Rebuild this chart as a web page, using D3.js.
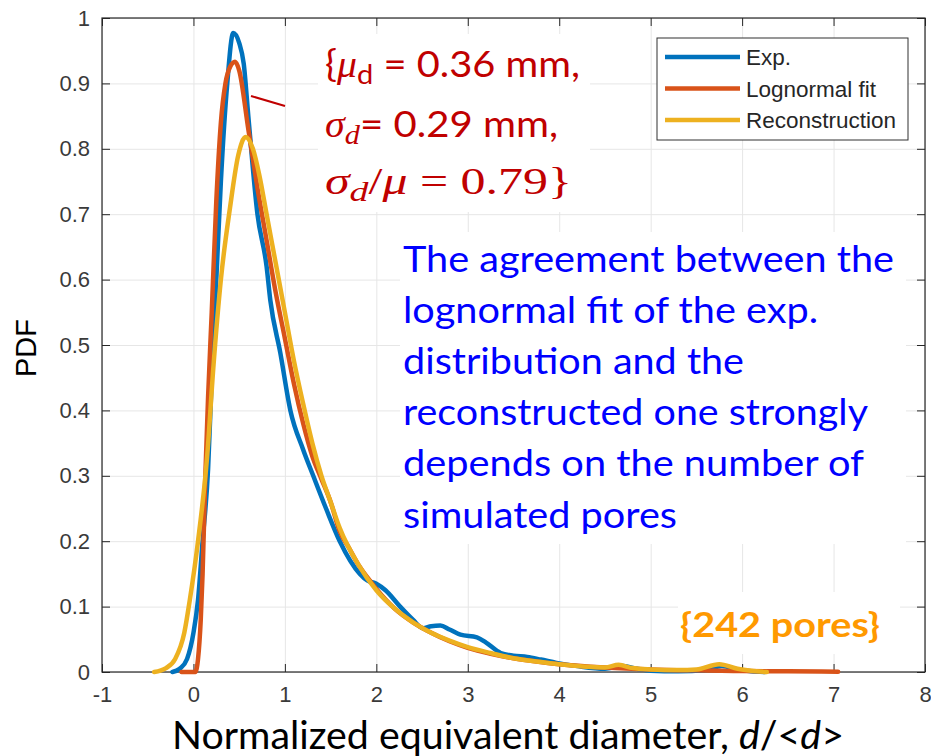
<!DOCTYPE html>
<html>
<head>
<meta charset="utf-8">
<script src="https://cdn.jsdelivr.net/npm/d3@7"></script>
<style>
  body { margin: 0; background: #fff; }
  svg { display: block; }
</style>
</head>
<body>
<div id="chart"></div>
<script>
// ---- data ----
const xTicks = [-1, 0, 1, 2, 3, 4, 5, 6, 7, 8];
const yTicks = [0, 0.1, 0.2, 0.3, 0.4, 0.5, 0.6, 0.7, 0.8, 0.9, 1];
const yTickLabels = ["0", "0.1", "0.2", "0.3", "0.4", "0.5", "0.6", "0.7", "0.8", "0.9", "1"];

const seriesNames = ["Exp.", "Lognormal fit", "Reconstruction"];
const seriesColors = ["#0072BD", "#D95319", "#EDB120"];

// Exp.
const expX = [-0.23, -0.15, -0.07, 0.0, 0.05, 0.1, 0.16, 0.2, 0.25, 0.3, 0.37, 0.435, 0.5, 0.55, 0.6, 0.7, 0.8, 0.84, 0.95, 1.06, 1.2, 1.31, 1.45, 1.6, 1.82, 1.9, 2.0, 2.1, 2.26, 2.4, 2.51, 2.6, 2.7, 2.8, 2.92, 3.1, 3.2, 3.36, 3.5, 3.65, 3.8, 3.97, 4.2, 4.5, 4.7, 4.85, 5.0, 5.3, 5.6, 5.78, 5.95, 6.1, 6.25];
const expY = [0, 0.005, 0.02, 0.06, 0.11, 0.2, 0.31, 0.45, 0.6, 0.75, 0.9, 0.977, 0.962, 0.93, 0.85, 0.70, 0.62, 0.569, 0.488, 0.40, 0.34, 0.30, 0.25, 0.20, 0.15, 0.14, 0.135, 0.125, 0.10, 0.08, 0.067, 0.07, 0.071, 0.065, 0.057, 0.053, 0.045, 0.029, 0.025, 0.023, 0.019, 0.014, 0.009, 0.005, 0.009, 0.005, 0.002, 0.001, 0.003, 0.009, 0.004, 0.001, 0];

// Lognormal fit
const fitX = [-0.13, 0.02, 0.05, 0.08, 0.1, 0.13, 0.16, 0.2, 0.25, 0.3, 0.35, 0.4, 0.455, 0.5, 0.6, 0.7, 0.8, 0.9, 1.0, 1.1, 1.2, 1.3, 1.4, 1.5, 1.6, 1.7, 1.8, 1.9, 2.0, 2.2, 2.4, 2.6, 2.8, 3.0, 3.25, 3.5, 3.75, 4.0, 4.5, 5.0, 5.5, 6.0, 6.5, 7.05];
const fitY = [0, 0, 0.02, 0.08, 0.15, 0.3, 0.42, 0.55, 0.72, 0.84, 0.9, 0.925, 0.933, 0.92, 0.83, 0.74, 0.66, 0.58, 0.51, 0.44, 0.38, 0.33, 0.295, 0.26, 0.215, 0.19, 0.165, 0.145, 0.127, 0.097, 0.076, 0.06, 0.047, 0.037, 0.028, 0.021, 0.016, 0.012, 0.007, 0.004, 0.0025, 0.0015, 0.001, 0.0005];

// Reconstruction
const recX = [-0.43, -0.3, -0.2, -0.1, -0.04, 0.05, 0.15, 0.22, 0.3, 0.4, 0.49, 0.57, 0.65, 0.72, 0.8, 0.9, 1.0, 1.1, 1.2, 1.3, 1.4, 1.5, 1.6, 1.8, 2.0, 2.2, 2.4, 2.6, 2.8, 3.0, 3.25, 3.5, 3.75, 4.0, 4.3, 4.5, 4.65, 4.8, 5.0, 5.3, 5.5, 5.75, 5.95, 6.1, 6.27];
const recY = [0, 0.006, 0.02, 0.06, 0.11, 0.2, 0.33, 0.47, 0.6, 0.71, 0.79, 0.818, 0.8, 0.76, 0.70, 0.625, 0.55, 0.475, 0.41, 0.35, 0.30, 0.26, 0.22, 0.165, 0.125, 0.097, 0.076, 0.06, 0.048, 0.038, 0.029, 0.021, 0.016, 0.012, 0.008, 0.007, 0.011, 0.006, 0.004, 0.003, 0.004, 0.012, 0.005, 0.002, 0];

const blueLines = [
  "The agreement between the",
  "lognormal fit of the exp.",
  "distribution and the",
  "reconstructed one strongly",
  "depends on the number of",
  "simulated pores"
];
const blueWidths = [491, 415, 341, 465, 461, 274];

// ---- svg ----
const W = 931, H = 756;
const svg = d3.select("#chart")
  .append("svg")
    .attr("width", W)
    .attr("height", H)
    .attr("viewBox", `0 0 ${W} ${H}`);

const plot = { left: 102, right: 925, top: 18, bottom: 672 };

const xScale = d3.scaleLinear().domain([-1, 8]).range([plot.left, plot.right]);
const yScale = d3.scaleLinear().domain([0, 1]).range([plot.bottom, plot.top]);

const tickFont = "'Liberation Sans', Arial, sans-serif";
const calibri = "Lato, 'Open Sans', sans-serif";
const mathFont = "'Liberation Serif', 'DejaVu Serif', serif";

// grid
svg.append("g")
  .attr("transform", `translate(0,${plot.bottom})`)
  .call(d3.axisBottom(xScale).tickValues(xTicks).tickSize(-(plot.bottom - plot.top)).tickFormat(""))
  .call(g => g.select(".domain").remove())
  .call(g => g.selectAll("line").attr("stroke", "#e6e6e6").attr("stroke-width", 1));

svg.append("g")
  .attr("transform", `translate(${plot.left},0)`)
  .call(d3.axisLeft(yScale).tickValues(yTicks).tickSize(-(plot.right - plot.left)).tickFormat(""))
  .call(g => g.select(".domain").remove())
  .call(g => g.selectAll("line").attr("stroke", "#e6e6e6").attr("stroke-width", 1));

// axes
const axisColor = "#262626";
const xAxis = svg.append("g")
  .attr("transform", `translate(0,${plot.bottom})`)
  .call(d3.axisBottom(xScale).tickValues(xTicks).tickSizeInner(-8).tickSizeOuter(0)
    .tickPadding(14).tickFormat(d => String(d)));
xAxis.select(".domain").remove();
xAxis.selectAll("line").attr("stroke", axisColor);
xAxis.selectAll("text")
  .attr("font-family", tickFont).attr("font-size", 22).attr("fill", "#3a3a3a");

const xTop = svg.append("g")
  .attr("transform", `translate(0,${plot.top})`)
  .call(d3.axisTop(xScale).tickValues(xTicks).tickSizeInner(-8).tickSizeOuter(0).tickFormat(""));
xTop.select(".domain").remove();
xTop.selectAll("line").attr("stroke", axisColor);

const yAxis = svg.append("g")
  .attr("transform", `translate(${plot.left},0)`)
  .call(d3.axisLeft(yScale).tickValues(yTicks).tickSizeInner(-8).tickSizeOuter(0)
    .tickPadding(12).tickFormat((d, i) => yTickLabels[i]));
yAxis.select(".domain").remove();
yAxis.selectAll("line").attr("stroke", axisColor);
yAxis.selectAll("text")
  .attr("font-family", tickFont).attr("font-size", 22).attr("fill", "#3a3a3a");

const yRight = svg.append("g")
  .attr("transform", `translate(${plot.right},0)`)
  .call(d3.axisRight(yScale).tickValues(yTicks).tickSizeInner(-8).tickSizeOuter(0).tickFormat(""));
yRight.select(".domain").remove();
yRight.selectAll("line").attr("stroke", axisColor);

svg.append("rect")
  .attr("x", plot.left).attr("y", plot.top)
  .attr("width", plot.right - plot.left).attr("height", plot.bottom - plot.top)
  .attr("fill", "none").attr("stroke", axisColor).attr("stroke-width", 1.2);

// white boxes behind the overlaid text
svg.append("rect").attr("x", 318).attr("y", 34).attr("width", 272).attr("height", 178).attr("fill", "#fff");
svg.append("rect").attr("x", 400).attr("y", 232).attr("width", 506).attr("height", 312).attr("fill", "#fff");
svg.append("rect").attr("x", 678).attr("y", 592).attr("width", 222).attr("height", 62).attr("fill", "#fff");

// curves
const series = [
  expX.map((x, i) => [x, expY[i]]),
  fitX.map((x, i) => [x, fitY[i]]),
  recX.map((x, i) => [x, recY[i]])
];

const line = d3.line()
  .x(d => xScale(d[0]))
  .y(d => yScale(d[1]))
  .curve(d3.curveMonotoneX);

svg.append("g")
  .selectAll("path")
  .data(series)
  .join("path")
    .attr("d", line)
    .attr("fill", "none")
    .attr("stroke", (d, i) => seriesColors[i])
    .attr("stroke-width", 4.5)
    .attr("stroke-linejoin", "round")
    .attr("stroke-linecap", "round");

// legend
const legend = svg.append("g").attr("transform", "translate(657,38)");
legend.append("rect")
  .attr("width", 251).attr("height", 102)
  .attr("fill", "#fff").attr("stroke", "#303030").attr("stroke-width", 1);
seriesNames.forEach((name, i) => {
  const y = 19 + i * 31.5;
  legend.append("line")
    .attr("x1", 8).attr("x2", 83).attr("y1", y).attr("y2", y)
    .attr("stroke", seriesColors[i]).attr("stroke-width", 4.5);
  legend.append("text")
    .attr("x", 89).attr("y", y + 8)
    .attr("font-family", tickFont).attr("font-size", 22.5).attr("fill", "#262626")
    .text(name);
});

// red annotation
const red = "#c00000";
svg.append("line")
  .attr("x1", 251).attr("y1", 96).attr("x2", 285).attr("y2", 106)
  .attr("stroke", red).attr("stroke-width", 2);

const r1 = svg.append("text").attr("x", 325).attr("y", 77).attr("fill", red)
  .attr("font-family", calibri).attr("font-size", 37)
  .attr("textLength", 255).attr("lengthAdjust", "spacingAndGlyphs");
r1.append("tspan").text("{");
r1.append("tspan").attr("font-family", mathFont).attr("font-style", "italic").text("μ");
r1.append("tspan").attr("font-size", 27).attr("dy", 7).text("d");
r1.append("tspan").attr("dy", -7).text(" = 0.36 mm,");

const r2 = svg.append("text").attr("x", 325).attr("y", 137).attr("fill", red)
  .attr("font-family", calibri).attr("font-size", 37)
  .attr("textLength", 233).attr("lengthAdjust", "spacingAndGlyphs");
r2.append("tspan").attr("font-family", mathFont).attr("font-style", "italic").text("σ");
r2.append("tspan").attr("font-family", mathFont).attr("font-style", "italic")
  .attr("font-size", 28).attr("dy", 7).text("d");
r2.append("tspan").attr("dy", -7).text("= 0.29 mm,");

const r3 = svg.append("text").attr("x", 325).attr("y", 194).attr("fill", red)
  .attr("font-family", mathFont).attr("font-size", 37)
  .attr("textLength", 247).attr("lengthAdjust", "spacingAndGlyphs");
r3.append("tspan").attr("font-style", "italic").text("σ");
r3.append("tspan").attr("font-style", "italic").attr("font-size", 28).attr("dy", 7).text("d");
r3.append("tspan").attr("dy", -7).text("/");
r3.append("tspan").attr("font-style", "italic").text("μ");
r3.append("tspan").text(" = 0.79}");

// blue annotation
svg.append("g")
  .selectAll("text")
  .data(blueLines)
  .join("text")
    .attr("x", 403)
    .attr("y", (d, i) => 271.5 + i * 51.2)
    .attr("font-family", calibri)
    .attr("font-size", 37)
    .attr("fill", "#0000ff")
    .attr("textLength", (d, i) => blueWidths[i])
    .attr("lengthAdjust", "spacingAndGlyphs")
    .text(d => d);

// pores label
svg.append("text")
  .attr("x", 680).attr("y", 637)
  .attr("font-family", calibri).attr("font-weight", "bold")
  .attr("font-size", 34).attr("fill", "#ff9900")
  .attr("textLength", 200).attr("lengthAdjust", "spacingAndGlyphs")
  .text("{242 pores}");

// axis titles
svg.append("text")
  .attr("transform", "translate(36,348) rotate(-90)")
  .attr("text-anchor", "middle")
  .attr("font-family", tickFont).attr("font-size", 29).attr("fill", "#000")
  .text("PDF");

const xt = svg.append("text")
  .attr("x", 172).attr("y", 749)
  .attr("font-family", calibri).attr("font-size", 38).attr("fill", "#000")
  .attr("textLength", 672).attr("lengthAdjust", "spacingAndGlyphs");
xt.append("tspan").text("Normalized equivalent diameter, ");
xt.append("tspan").attr("font-style", "italic").text("d");
xt.append("tspan").text("/<");
xt.append("tspan").attr("font-style", "italic").text("d");
xt.append("tspan").text(">");
</script>
</body>
</html>
